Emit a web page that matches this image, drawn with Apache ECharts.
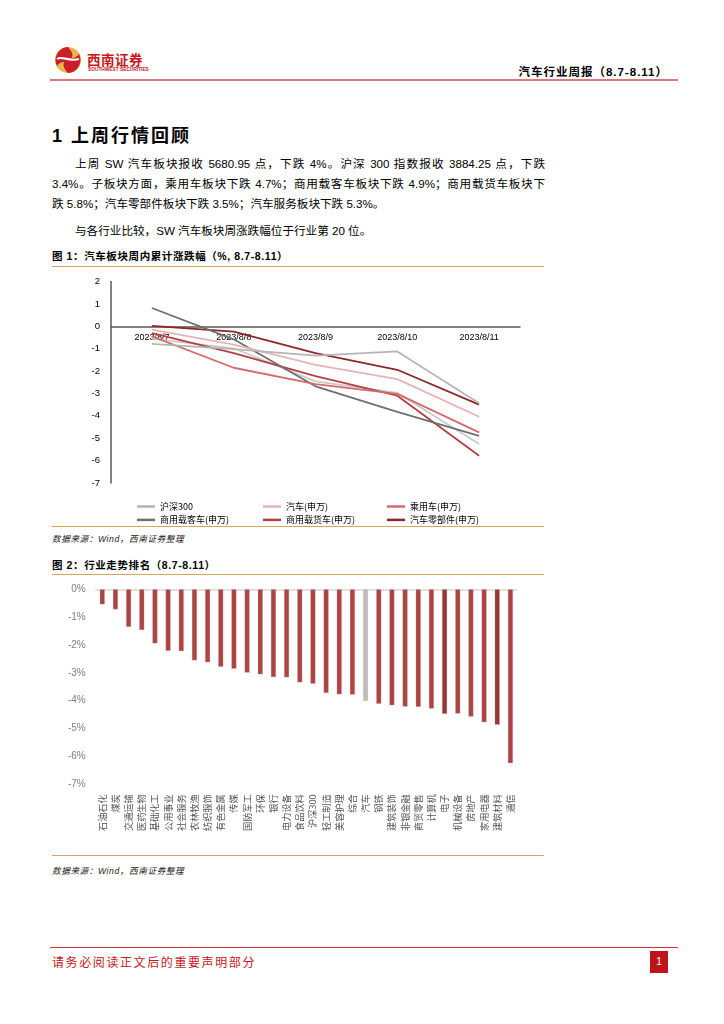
<!DOCTYPE html>
<html><head><meta charset="utf-8">
<script src="https://cdn.jsdelivr.net/npm/echarts@6/dist/echarts.min.js"></script>
<style>
html,body{margin:0;padding:0;background:#fff;}
body{width:724px;height:1024px;position:relative;overflow:hidden;font-family:"Liberation Sans","Noto Sans CJK SC",sans-serif;color:#000;}
.abs{position:absolute;white-space:nowrap;}
.hl{position:absolute;height:0;}
.para{position:absolute;left:52px;width:493px;font-size:11.6px;line-height:20px;}
.para div{text-align:justify;text-align-last:justify;}
.para div.last{text-align-last:left;}
.cap{position:absolute;left:52px;font-size:10.5px;font-weight:bold;letter-spacing:0.6px;}
.src{position:absolute;left:52px;font-size:8.6px;font-style:italic;color:#222;letter-spacing:0.6px;}
</style></head>
<body>
<!-- header -->
<svg class="abs" style="left:54px;top:46px" width="28" height="28" viewBox="0 0 28 28">
  <circle cx="14" cy="14" r="13" fill="#e9b64c"/>
  <path d="M14 1 A13 13 0 0 0 3 20 C7 14 12 17 16 14 C20 11 19 6 14 1Z" fill="#c8202a"/>
  <path d="M14 27 A13 13 0 0 0 25 8 C21 14 16 11 12 14 C8 17 9 22 14 27Z" fill="#c8202a"/>
  <path d="M3 13 C8 9 13 16 25 13" stroke="#fff" stroke-width="2" fill="none"/>
</svg>
<div class="abs" style="left:87px;top:49px;font-size:13.5px;font-weight:bold;color:#c8161d;letter-spacing:0.5px;">西南证券</div>
<div class="abs" style="left:88px;top:67px;font-size:8px;font-weight:bold;color:#c8161d;transform-origin:0 0;transform:scale(0.6);">SOUTHWEST SECURITIES</div>
<div class="abs" style="right:56px;top:63px;font-size:11.5px;font-weight:bold;letter-spacing:1px;">汽车行业周报（8.7-8.11）</div>
<div class="hl" style="left:50px;top:79px;width:628px;border-top:2px solid #dc7880;"></div>

<div class="abs" style="left:52px;top:121px;font-size:18px;font-weight:bold;letter-spacing:2px;">1 上周行情回顾</div>

<div class="para" style="top:154px;">
  <div style="padding-left:23px;">上周 SW 汽车板块报收 5680.95 点，下跌 4%。沪深 300 指数报收 3884.25 点，下跌</div>
  <div>3.4%。子板块方面，乘用车板块下跌 4.7%；商用载客车板块下跌 4.9%；商用载货车板块下</div>
  <div class="last">跌 5.8%；汽车零部件板块下跌 3.5%；汽车服务板块下跌 5.3%。</div>
</div>
<div class="para" style="top:221px;">
  <div class="last" style="padding-left:23px;">与各行业比较，SW 汽车板块周涨跌幅位于行业第 20 位。</div>
</div>

<div class="cap" style="top:248px;">图 1：汽车板块周内累计涨跌幅（%, 8.7-8.11）</div>
<div class="hl" style="left:52px;top:266px;width:492px;border-top:1.5px solid #d6a55e;"></div>
<div id="c1" class="abs" style="left:52px;top:268px;width:492px;height:258px;"></div>
<div class="hl" style="left:52px;top:526px;width:492px;border-top:1.5px solid #d6a55e;"></div>
<div class="src" style="top:532px;">数据来源：Wind，西南证券整理</div>

<div class="cap" style="top:557px;">图 2：行业走势排名（8.7-8.11）</div>
<div class="hl" style="left:52px;top:574px;width:492px;border-top:1.5px solid #d6a55e;"></div>
<div id="c2" class="abs" style="left:52px;top:576px;width:492px;height:279px;"></div>
<div class="hl" style="left:52px;top:855px;width:492px;border-top:1.5px solid #d6a55e;"></div>
<div class="src" style="top:864px;">数据来源：Wind，西南证券整理</div>

<!-- footer -->
<div class="hl" style="left:50px;top:947px;width:628px;border-top:1.5px solid #d0303a;"></div>
<div class="abs" style="left:52px;top:953px;font-size:12px;color:#c8161d;letter-spacing:1.6px;">请务必阅读正文后的重要声明部分</div>
<div class="abs" style="left:650px;top:951px;width:18px;height:22px;background:#c0141d;color:#fff;font-size:10px;line-height:22px;text-align:center;">1</div>

<script>
// ---- Chart 1 data ----
var dates = ['2023/8/7','2023/8/8','2023/8/9','2023/8/10','2023/8/11'];
var hs300   = [-0.78, -1.02, -1.31, -1.12, -3.44];
var qiche   = [-0.15, -0.82, -1.72, -2.36, -4.04];
var chengyong = [-0.45, -1.85, -2.58, -3.02, -4.74];
var zaike   = [0.82, -0.58, -2.68, -3.82, -4.89];
var zaihuo  = [-0.30, -1.20, -2.22, -3.10, -5.78];
var lingbujian = [0.02, -0.24, -1.20, -1.94, -3.50];
var fuwu    = [-0.55, -0.98, -2.46, -2.97, -5.26];
var names1 = ['沪深300','汽车(申万)','乘用车(申万)','商用载客车(申万)','商用载货车(申万)','汽车零部件(申万)','汽车服务(申万)'];
var yMin1 = -7, yMax1 = 2;

// ---- Chart 2 data ----
var industries = ['石油石化','煤炭','交通运输','医药生物','基础化工','公用事业','社会服务','农林牧渔','纺织服饰','有色金属','传媒','国防军工','环保','银行','电力设备','食品饮料','沪深300','轻工制造','美容护理','综合','汽车','钢铁','建筑装饰','非银金融','商贸零售','计算机','电子','机械设备','房地产','家用电器','建筑材料','通信'];
var weekChg = [-0.54,-0.72,-1.35,-1.46,-1.94,-2.21,-2.22,-2.55,-2.62,-2.78,-2.85,-2.99,-3.05,-3.15,-3.16,-3.34,-3.39,-3.72,-3.77,-3.78,-4.01,-4.11,-4.16,-4.21,-4.22,-4.28,-4.47,-4.46,-4.57,-4.77,-4.86,-6.24];
var yMin2 = -7, yMax2 = 0;

var colors1 = ['#b5b5b5','#e6b4b4','#d26c6c','#6f6f6f','#b73f3f','#8c2828','#cacaca'];
var seriesData = [hs300, qiche, chengyong, zaike, zaihuo, lingbujian, fuwu];

var grid1 = {left:59, right:24, top:13.6, bottom:43};
var plotH1 = 258 - grid1.top - grid1.bottom;
var zeroOffset = -plotH1 * (0 - yMin1) / (yMax1 - yMin1);

var c1 = echarts.init(document.getElementById('c1'), null, {renderer:'canvas'});
var series1 = seriesData.map(function(d,i){
  return {name:names1[i], type:'line', data:d, symbol:'none', smooth:false,
    lineStyle:{color:colors1[i], width:1.8}, itemStyle:{color:colors1[i]}, z: 10-i};
});
function lg(left, items){
  return {orient:'vertical', left:left, top:233, itemWidth:18, itemHeight:2.5, itemGap:2.4, icon:'rect',
    data:items, textStyle:{fontSize:9, color:'#000', lineHeight:11, fontFamily:'Noto Sans CJK SC'}, selectedMode:false, padding:0};
}
c1.setOption({
  animation:false,
  grid:grid1,
  legend:[lg(85,[names1[0],names1[3]]), lg(211,[names1[1],names1[4]]), lg(335,[names1[2],names1[5]])],
  xAxis:{type:'category', data:dates, boundaryGap:true, position:'bottom', offset:zeroOffset,
    axisLine:{onZero:false, lineStyle:{color:'#5a5a5a', width:1.5}},
    axisTick:{show:false}, splitLine:{show:false},
    axisLabel:{fontSize:9, color:'#000', margin:7, fontFamily:'Liberation Sans'}},
  yAxis:{type:'value', min:yMin1, max:yMax1, interval:1,
    axisLine:{show:true, lineStyle:{color:'#5a5a5a', width:1.5}},
    axisTick:{show:false}, splitLine:{show:false},
    axisLabel:{fontSize:9.5, color:'#000', margin:11, fontFamily:'Liberation Sans'}},
  series:series1
});

var c2 = echarts.init(document.getElementById('c2'), null, {renderer:'canvas'});
var barData = weekChg.map(function(v,i){
  var col = '#ab4444';
  if (industries[i]==='汽车') col = '#bdbdbd';
  else if (industries[i]==='电子' || industries[i]==='建筑材料') col = '#963636';
  return {value:v, itemStyle:{color:col}};
});
c2.setOption({
  animation:false,
  grid:{left:43.7, right:27, top:13.3, bottom:70.7},
  xAxis:[{type:'category', data:industries, position:'bottom',
    axisLine:{show:false, onZero:false}, axisTick:{show:false},
    axisLabel:{rotate:90, interval:0, fontSize:9.2, color:'#555', margin:10, fontFamily:'Noto Sans CJK SC'}},
    {type:'category', data:industries, position:'top',
    axisLine:{show:true, onZero:false, lineStyle:{color:'#d9d9d9', width:1.5}}, axisTick:{show:false}, axisLabel:{show:false}}],
  yAxis:{type:'value', min:yMin2, max:yMax2, interval:1,
    axisLine:{show:false}, axisTick:{show:false}, splitLine:{show:false},
    axisLabel:{formatter:'{value}%', fontSize:10, color:'#808080', margin:10, fontFamily:'Liberation Sans'}},
  series:[{type:'bar', data:barData, barWidth:5, itemStyle:{borderColor:'rgba(230,160,160,0.7)', borderWidth:0.4}}]
});
</script>
</body></html>
